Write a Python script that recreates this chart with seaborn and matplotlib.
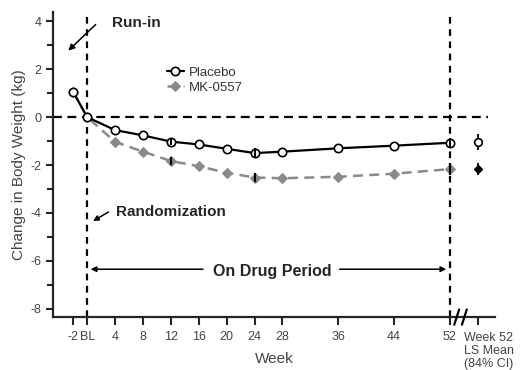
import matplotlib
matplotlib.use("Agg")
import matplotlib.pyplot as plt
import matplotlib.transforms as mtransforms
import seaborn as sns
import pandas as pd

sns.set_style("ticks")
plt.rcParams['font.family'] = ['Liberation Sans', 'DejaVu Sans']
plt.rcParams['axes.unicode_minus'] = False

weeks = [-2, 0, 4, 8, 12, 16, 20, 24, 28, 36, 44, 52]
placebo = [1.05, 0.0, -0.54, -0.76, -1.02, -1.14, -1.32, -1.50, -1.44, -1.30, -1.19, -1.07]
mk0557 = [1.05, 0.0, -1.03, -1.44, -1.83, -2.05, -2.32, -2.52, -2.55, -2.49, -2.36, -2.17]
err_weeks = [12, 24, 52]
placebo_err = [0.15, 0.2, 0.22]
mk_err = [0.15, 0.2, 0.25]
ls_mean_x = 56
ls_placebo, ls_placebo_err = -1.05, 0.33
ls_mk, ls_mk_err = -2.17, 0.25
xtick_pos = [-2, 0, 4, 8, 12, 16, 20, 24, 28, 36, 44, 52, 56]
xtick_labels = ["-2", "BL", "4", "8", "12", "16", "20", "24", "28", "36", "44", "52", ""]
ls_label = "Week 52\nLS Mean\n(84% CI)"
ytick_pos = [-8, -6, -4, -2, 0, 2, 4]

fig = plt.figure(figsize=(5.2, 3.7), dpi=100)
ax = fig.add_axes([0.102, 0.143, 0.85, 0.825])

df = pd.DataFrame({"week": weeks, "Placebo": placebo, "MK-0557": mk0557})

sns.lineplot(data=df, x="week", y="MK-0557", ax=ax, color="#8a8a8a", linestyle=(0, (4, 2.5)),
             linewidth=1.8, marker="D", markersize=5, markeredgecolor="#8a8a8a",
             label="MK-0557", zorder=3)
sns.lineplot(data=df, x="week", y="Placebo", ax=ax, color="black", linewidth=1.6,
             marker="o", markersize=6, markerfacecolor="white", markeredgecolor="black",
             markeredgewidth=1.2, label="Placebo", zorder=4)

# error bars
pe = [placebo[weeks.index(w)] for w in err_weeks]
me = [mk0557[weeks.index(w)] for w in err_weeks]
ax.errorbar(err_weeks, pe, yerr=placebo_err, fmt="none", ecolor="black", elinewidth=1.5, zorder=5)
ax.errorbar(err_weeks, me, yerr=mk_err, fmt="none", ecolor="black", elinewidth=1.5, zorder=5)
ax.errorbar([ls_mean_x], [ls_placebo], yerr=[ls_placebo_err], fmt="o", mfc="white", mec="black",
            ecolor="black", ms=5.5, mew=1.2, elinewidth=1.3, zorder=5)
ax.errorbar([ls_mean_x], [ls_mk], yerr=[ls_mk_err], fmt="D", color="black", ms=4,
            elinewidth=1.3, zorder=5)

# reference lines
ax.axhline(0, xmin=0, xmax=0.985, color="black", linestyle=(0, (4, 2.5)), linewidth=1.6, zorder=1)
ax.axvline(0, color="black", linestyle=(0, (3, 2.5)), linewidth=1.6, zorder=1)
ax.axvline(52, color="black", linestyle=(0, (3, 2.5)), linewidth=1.6, zorder=1)

ax.set_xlim(-4.9, 58.5)
ax.set_ylim(-8.35, 4.4)
ax.set_xticks(xtick_pos)
ax.set_xticklabels(xtick_labels, color="#444444", fontsize=9)
ax.set_yticks(ytick_pos)
ax.set_yticks([-7, -5, -3, -1, 1, 3], minor=True)
ax.tick_params(axis="y", labelcolor="#444444", labelsize=9, width=1.5, length=5)
ax.tick_params(axis="y", which="minor", width=1.5, length=4)
ax.tick_params(axis="x", width=1.5, length=6, pad=4)
ax.set_xlabel("Week", color="#444444", fontsize=11)
ax.xaxis.set_label_coords(0.5, -0.115)
ax.set_ylabel("Change in Body Weight (kg)", color="#444444", fontsize=11, labelpad=3)
sns.despine(ax=ax)
for s in ["left", "bottom"]:
    ax.spines[s].set_linewidth(1.6)

trans = mtransforms.blended_transform_factory(ax.transData, ax.transAxes)
ax.text(54.0, -0.048, ls_label, transform=trans, ha="left", va="top", fontsize=9,
        color="#444444", linespacing=1.1, clip_on=False)

# axis break marks
for xb in [53.0, 54.1]:
    ax.plot([xb - 0.35, xb + 0.35], [-0.025, 0.025], transform=trans, color="black",
            linewidth=1.6, clip_on=False, zorder=6)

# legend
leg = ax.legend(handles=ax.get_legend_handles_labels()[0][::-1],
                labels=["Placebo", "MK-0557"], loc="upper left",
                bbox_to_anchor=(0.23, 0.86), frameon=False, fontsize=9.5,
                handlelength=1.3, handletextpad=0.4, labelspacing=0.2)
for t in leg.get_texts():
    t.set_color("#333333")

# annotations
ax.text(3.5, 3.95, "Run-in", fontsize=11, fontweight="bold", va="center", ha="left")
ax.annotate("", xy=(-3.0, 2.7), xytext=(1.5, 3.95),
            arrowprops=dict(arrowstyle="-|>", color="black", lw=1.1, mutation_scale=9))
ax.text(4.2, -3.95, "Randomization", fontsize=11, fontweight="bold", va="center", ha="left")
ax.annotate("", xy=(0.5, -4.4), xytext=(3.4, -3.9),
            arrowprops=dict(arrowstyle="-|>", color="black", lw=1.1, mutation_scale=8))
ax.text(26.5, -6.45, "On Drug Period", fontsize=11.5, fontweight="bold", va="center", ha="center")
ax.annotate("", xy=(0.1, -6.35), xytext=(17.0, -6.35),
            arrowprops=dict(arrowstyle="-|>", color="black", lw=1.1, mutation_scale=8))
ax.annotate("", xy=(51.9, -6.35), xytext=(35.8, -6.35),
            arrowprops=dict(arrowstyle="-|>", color="black", lw=1.1, mutation_scale=8))

fig.savefig("out.png", dpi=100)
